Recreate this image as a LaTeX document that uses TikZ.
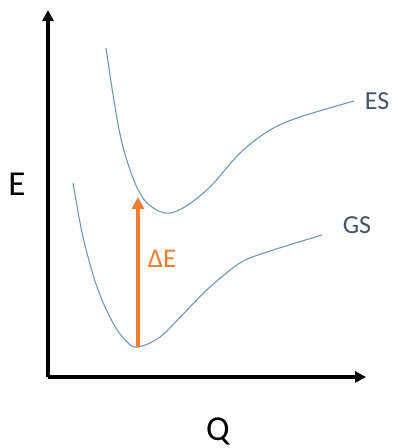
\documentclass[tikz,border=0pt]{standalone}
\usepackage{fontspec}
\setmainfont{Carlito}
\usetikzlibrary{arrows.meta}
\definecolor{curveblue}{RGB}{112,150,192}
\definecolor{labelgray}{RGB}{68,84,106}
\definecolor{exorange}{RGB}{237,125,49}
\tikzset{
  axis/.style={line width=3.2pt, -{Triangle[width=11pt,length=11pt]}},
  pes/.style={curveblue, line width=1.1pt},
  lbl/.style={labelgray, inner sep=0pt, font=\fontsize{26}{26}\selectfont},
  axlbl/.style={inner sep=0pt, font=\fontsize{35}{35}\selectfont}
}

\begin{document}
\begin{tikzpicture}[x=1pt, y=-1pt]
\useasboundingbox (0, 0) rectangle (393, 448);
\coordinate (O) at (48, 377);
\coordinate (Etop) at (48, 10);
\coordinate (Qend) at (366, 377);
\draw[axis] (O) -- (Etop);
\draw[axis] (O) -- (Qend);
% excited state
\draw[pes] plot[smooth, tension=0.55] coordinates {(106, 48) (115, 107) (123, 147) (135, 183) (147, 203) (165, 213) (183, 208) (210, 187) (240, 153) (270, 130) (300, 117) (354, 101)};
% ground state
\draw[pes] plot[smooth, tension=0.55] coordinates {(73, 183) (83, 237) (97, 287) (113, 323) (127, 342) (138, 347) (160, 337) (187, 310) (210, 287) (240, 263) (267, 252) (322, 235)};
\coordinate (gsmin) at (138, 347);
\coordinate (esmin) at (138, 197);
\draw[exorange, line width=3.6pt, -{Triangle[width=12pt,length=12pt]}] (gsmin) -- (esmin);
\node[lbl] (ES) at (377, 101) {ES};
\node[lbl] (GS) at (357, 225) {GS};
\node[exorange, inner sep=0pt, font=\fontsize{27}{27}\selectfont] (dE) at (162, 259) {ΔE};
\node[axlbl] (E) at (17, 184) {E};
\node[axlbl] (Q) at (218, 431) {Q};
\end{tikzpicture}
\end{document}
